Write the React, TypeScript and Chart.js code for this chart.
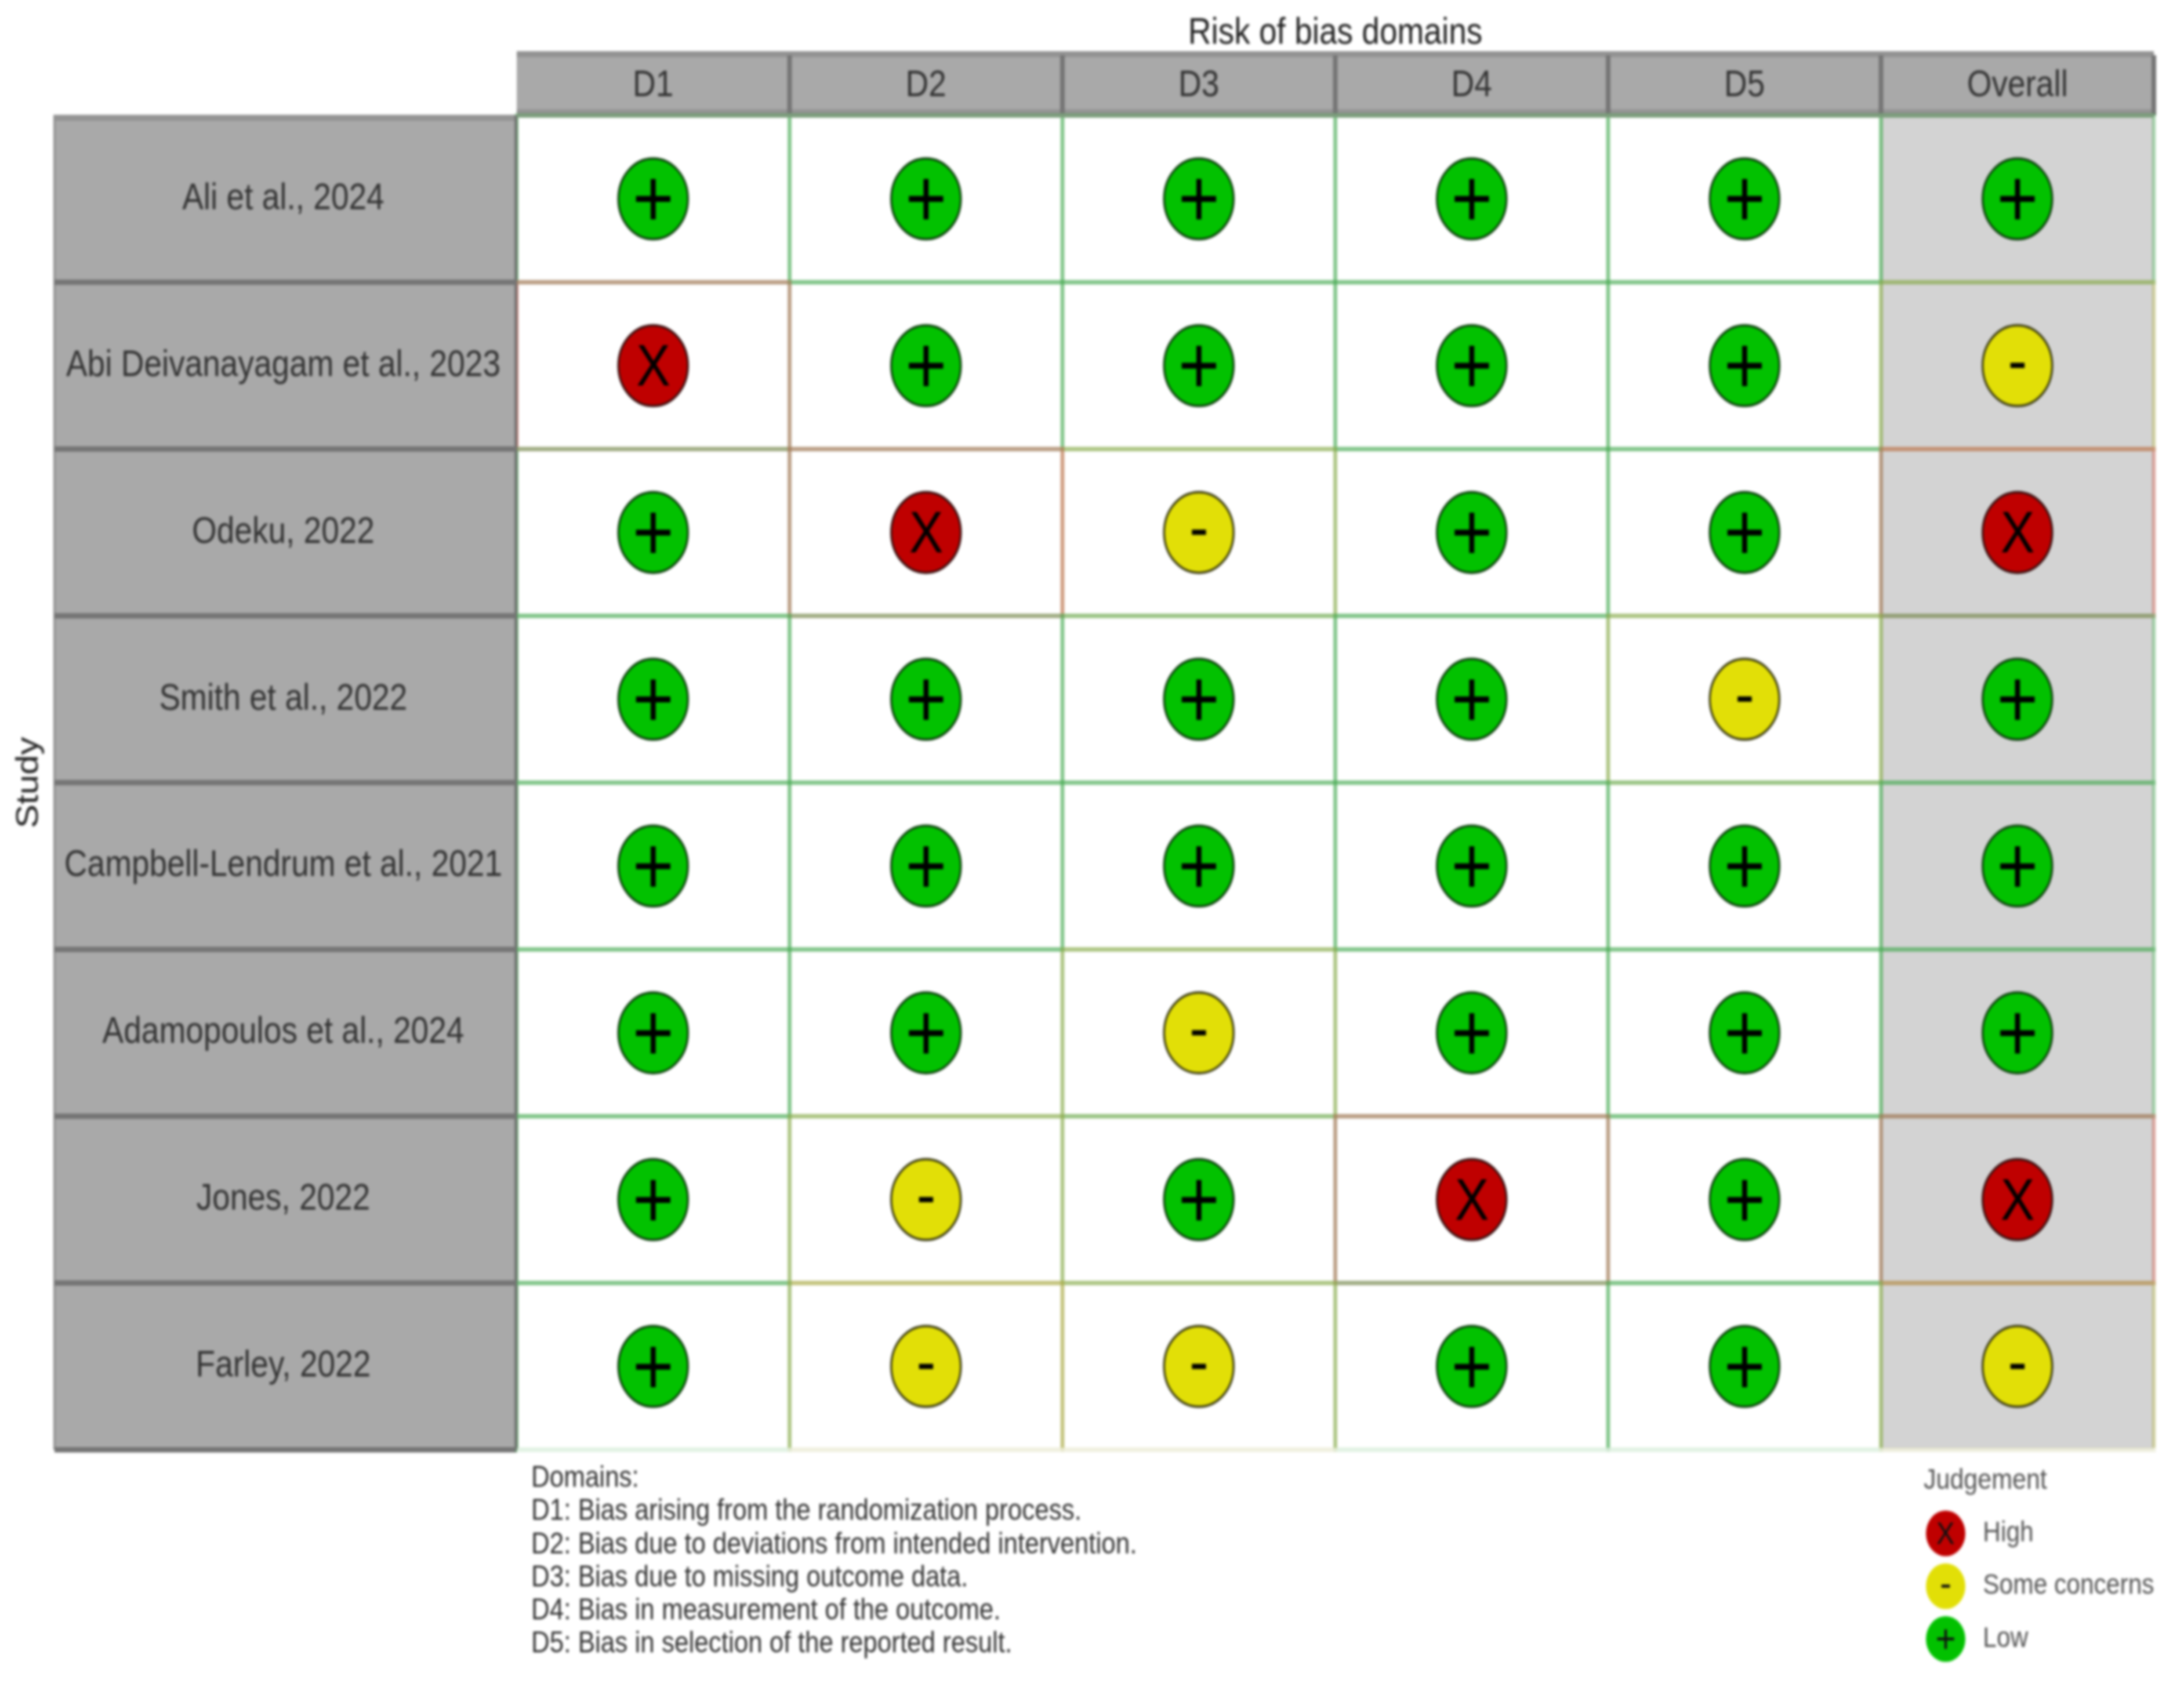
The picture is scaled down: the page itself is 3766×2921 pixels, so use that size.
import React, { useEffect, useRef } from "react";
import { Chart, registerables } from "chart.js";

Chart.register(...registerables);

const studies = [
  "Ali et al., 2024",
  "Abi Deivanayagam et al., 2023",
  "Odeku, 2022",
  "Smith et al., 2022",
  "Campbell-Lendrum et al., 2021",
  "Adamopoulos et al., 2024",
  "Jones, 2022",
  "Farley, 2022",
];
const domains = ["D1", "D2", "D3", "D4", "D5", "Overall"];
const d1 = ["Low", "High", "Low", "Low", "Low", "Low", "Low", "Low"];
const d2 = ["Low", "Low", "High", "Low", "Low", "Low", "Some concerns", "Some concerns"];
const d3 = ["Low", "Low", "Some concerns", "Low", "Low", "Some concerns", "Low", "Some concerns"];
const d4 = ["Low", "Low", "Low", "Low", "Low", "Low", "High", "Low"];
const d5 = ["Low", "Low", "Low", "Some concerns", "Low", "Low", "Low", "Low"];
const overall = ["Low", "Some concerns", "High", "Low", "Low", "Low", "High", "Some concerns"];
const columns = [d1, d2, d3, d4, d5, overall];
const levels = ["High", "Some concerns", "Low"];
const fills = ["#BF0000", "#E2DF07", "#02C100"];
const tileEdges = ["rgba(200,100,85,0.5)", "rgba(170,170,70,0.45)", "rgba(70,170,80,0.42)"];
const outlines = ["#3a1010", "#3a3a10", "#0c400c"];
const glyphs = ["X", "-", "+"];
const glyphSizes = [88, 100, 122];
const legendGlyphSizes = [47, 60, 60];
const domainNotes = [
  "Domains:",
  "D1: Bias arising from the randomization process.",
  "D2: Bias due to deviations from intended intervention.",
  "D3: Bias due to missing outcome data.",
  "D4: Bias in measurement of the outcome.",
  "D5: Bias in selection of the reported result.",
];

const FONT = '"Liberation Sans", Arial, sans-serif';
const W = 3766;
const H = 2518;
const STRETCH = 2921 / H;

function drawCentred(ctx: CanvasRenderingContext2D, text: string, x: number, y: number, size: number) {
  ctx.font = `${size}px ${FONT}`;
  ctx.textAlign = "left";
  ctx.textBaseline = "alphabetic";
  const m = ctx.measureText(text);
  const ox = (m.actualBoundingBoxRight - m.actualBoundingBoxLeft) / 2;
  const oy = (m.actualBoundingBoxAscent - m.actualBoundingBoxDescent) / 2;
  ctx.fillText(text, x - ox, y + oy);
}

function legendDisc(color: string) {
  const c = document.createElement("canvas");
  c.width = 70;
  c.height = 70;
  const g = c.getContext("2d")!;
  g.fillStyle = color;
  g.beginPath();
  g.ellipse(35, 35, 34, 34, 0, 0, Math.PI * 2);
  g.fill();
  return c;
}

const framePlugin = {
  id: "frame",
  beforeDraw(chart: any) {
    const { ctx, chartArea: a, scales } = chart;
    const xs = scales.x;
    const ys = scales.y;
    const colW = a.width / domains.length;
    const rowH = a.height / studies.length;
    const panelLeft = 92;
    const headTop = 76;
    ctx.save();
    // header band and study panel
    ctx.fillStyle = "#a9a9a9";
    ctx.fillRect(a.left, headTop, a.width, a.top - headTop);
    ctx.fillRect(panelLeft, a.top, a.left - panelLeft, a.height);
    ctx.fillStyle = "#d3d3d3";
    const overallX = xs.getPixelForValue(domains.length - 1);
    ctx.fillRect(overallX - colW / 2, a.top, colW, a.height);
    // panel edges
    ctx.fillStyle = "#939393";
    ctx.fillRect(a.left, headTop, a.width, 9);
    ctx.fillRect(a.left, a.top - 9, a.width, 9);
    ctx.fillRect(panelLeft, a.top - 1, a.left - panelLeft, 9);
    ctx.fillRect(panelLeft, a.top, 4, a.height);
    ctx.fillStyle = "#757575";
    for (let i = 1; i <= domains.length; i++) {
      ctx.fillRect(a.left + i * colW - 4, headTop + 6, 8, a.top - headTop - 6);
    }
    ctx.fillRect(a.left - 4, a.top, 6, a.height);
    for (let j = 1; j <= studies.length; j++) {
      ctx.fillRect(panelLeft + 2, a.top + j * rowH - 4, a.left - panelLeft - 2, 8);
    }
    // tiles: later rows lie over earlier ones, high judgements on top within a row
    ctx.lineWidth = 6.5;
    studies.forEach((_s, r) => {
      [2, 1, 0].forEach((lv) => {
        domains.forEach((_d, c) => {
          if (columns[c][r] !== levels[lv]) return;
          ctx.strokeStyle = tileEdges[lv];
          const cx = xs.getPixelForValue(c);
          const cy = ys.getPixelForValue(r);
          ctx.strokeRect(cx - colW / 2, cy - rowH / 2, colW, rowH);
        });
      });
    });
    ctx.fillStyle = "#757575";
    ctx.fillRect(a.left - 4, a.top, 4, a.height);
    ctx.fillStyle = "#7c9c7c";
    ctx.fillRect(a.left, a.top - 3, a.width, 6);
    ctx.fillStyle = "rgba(255,255,255,0.62)";
    ctx.fillRect(a.left + 1, a.bottom - 3, a.width + 4, 7);
    ctx.restore();
  },
  afterLayout(chart: any) {
    const lg = chart.legend;
    if (!lg) return;
    lg.left = 3276;
    lg.right = 3766;
    lg.width = 490;
    lg.top = 2222;
    lg.bottom = 2518;
    lg.height = 296;
  },
  afterDatasetsDraw(chart: any) {
    const { ctx } = chart;
    ctx.save();
    ctx.fillStyle = "#000000";
    levels.forEach((_l, i) => {
      chart.getDatasetMeta(i).data.forEach((pt: any) => {
        drawCentred(ctx, glyphs[i], pt.x, pt.y, glyphSizes[i]);
      });
    });
    ctx.restore();
  },
  afterDraw(chart: any) {
    const { ctx } = chart;
    ctx.save();
    ctx.fillStyle = "#333333";
    ctx.font = `44px ${FONT}`;
    ctx.textAlign = "left";
    ctx.textBaseline = "middle";
    domainNotes.forEach((line, i) => ctx.fillText(line, 916, 2198 + i * 49.2));
    ctx.fillStyle = "#555555";
    ctx.font = `43px ${FONT}`;
    ctx.fillText("Judgement", 3317, 2201);
    const lg = chart.legend;
    const pad = lg.options.labels.padding;
    ctx.fillStyle = "#111111";
    levels.forEach((_l, i) => {
      const x = lg.left + pad + 43;
      const y = lg.top + pad + 21.25 + i * (42.5 + pad);
      drawCentred(ctx, glyphs[i], x, y, legendGlyphSizes[i]);
    });
    ctx.restore();
  },
};

export default function App() {
  const ref = useRef<HTMLCanvasElement | null>(null);
  useEffect(() => {
    if (!ref.current) return;
    const datasets = levels.map((level, i) => {
      const data: { x: string; y: string }[] = [];
      columns.forEach((col, c) =>
        col.forEach((v, r) => {
          if (v === level) data.push({ x: domains[c], y: studies[r] });
        })
      );
      return {
        label: level,
        data,
        pointRadius: 60,
        pointStyle: "circle",
        pointBackgroundColor: fills[i],
        pointBorderColor: outlines[i],
        pointBorderWidth: 3.5,
        showLine: false,
      };
    });
    const chart = new Chart(ref.current, {
      type: "scatter",
      data: { datasets },
      plugins: [framePlugin],
      options: {
        animation: false,
        responsive: false,
        devicePixelRatio: 1,
        events: [],
        layout: { autoPadding: false, padding: { top: 0, left: 0, right: 52, bottom: 363 } },
        scales: {
          x: {
            type: "category",
            labels: domains,
            position: "top",
            offset: true,
            grid: { display: false, drawTicks: false },
            border: { display: false },
            ticks: {
              color: "#333333",
              font: { family: FONT, size: 55 },
              padding: 11,
              autoSkip: false,
              maxRotation: 0,
            },
            title: {
              display: true,
              text: "Risk of bias domains",
              color: "#222222",
              font: { family: FONT, size: 55 },
              padding: { top: 17, bottom: 0 },
            },
            afterFit(s: any) {
              s.height = 171.6;
            },
          },
          y: {
            type: "category",
            labels: studies,
            offset: true,
            grid: { display: false, drawTicks: false },
            border: { display: false },
            ticks: {
              color: "#333333",
              font: { family: FONT, size: 55 },
              crossAlign: "center",
              padding: 25,
              autoSkip: false,
            },
            title: {
              display: true,
              text: "Study",
              color: "#222222",
              font: { family: FONT, size: 53 },
              padding: { top: 19, bottom: 0 },
            },
            afterFit(s: any) {
              s.width = 891;
            },
          },
        },
        plugins: {
          tooltip: { enabled: false },
          title: { display: false },
          legend: {
            display: true,
            position: "chartArea",
            align: "start",
            labels: {
              usePointStyle: true,
              pointStyleWidth: 86,
              padding: 36,
              color: "#555555",
              font: { family: FONT, size: 42.5 },
              generateLabels: (c: any) =>
                (Chart.defaults.plugins.legend.labels as any)
                  .generateLabels(c)
                  .map((it: any, i: number) => ({ ...it, lineWidth: 0, pointStyle: legendDisc(fills[i]) })),
            },
          },
        },
      } as any,
    });
    return () => chart.destroy();
  }, []);
  return (
    <div
      style={{
        position: "absolute",
        left: 0,
        top: 0,
        width: W,
        height: H,
        transformOrigin: "0 0",
        transform: `scaleY(${STRETCH})`,
        filter: "blur(2px)",
        background: "#ffffff",
      }}
    >
      <canvas ref={ref} width={W} height={H} style={{ display: "block" }} />
    </div>
  );
}
